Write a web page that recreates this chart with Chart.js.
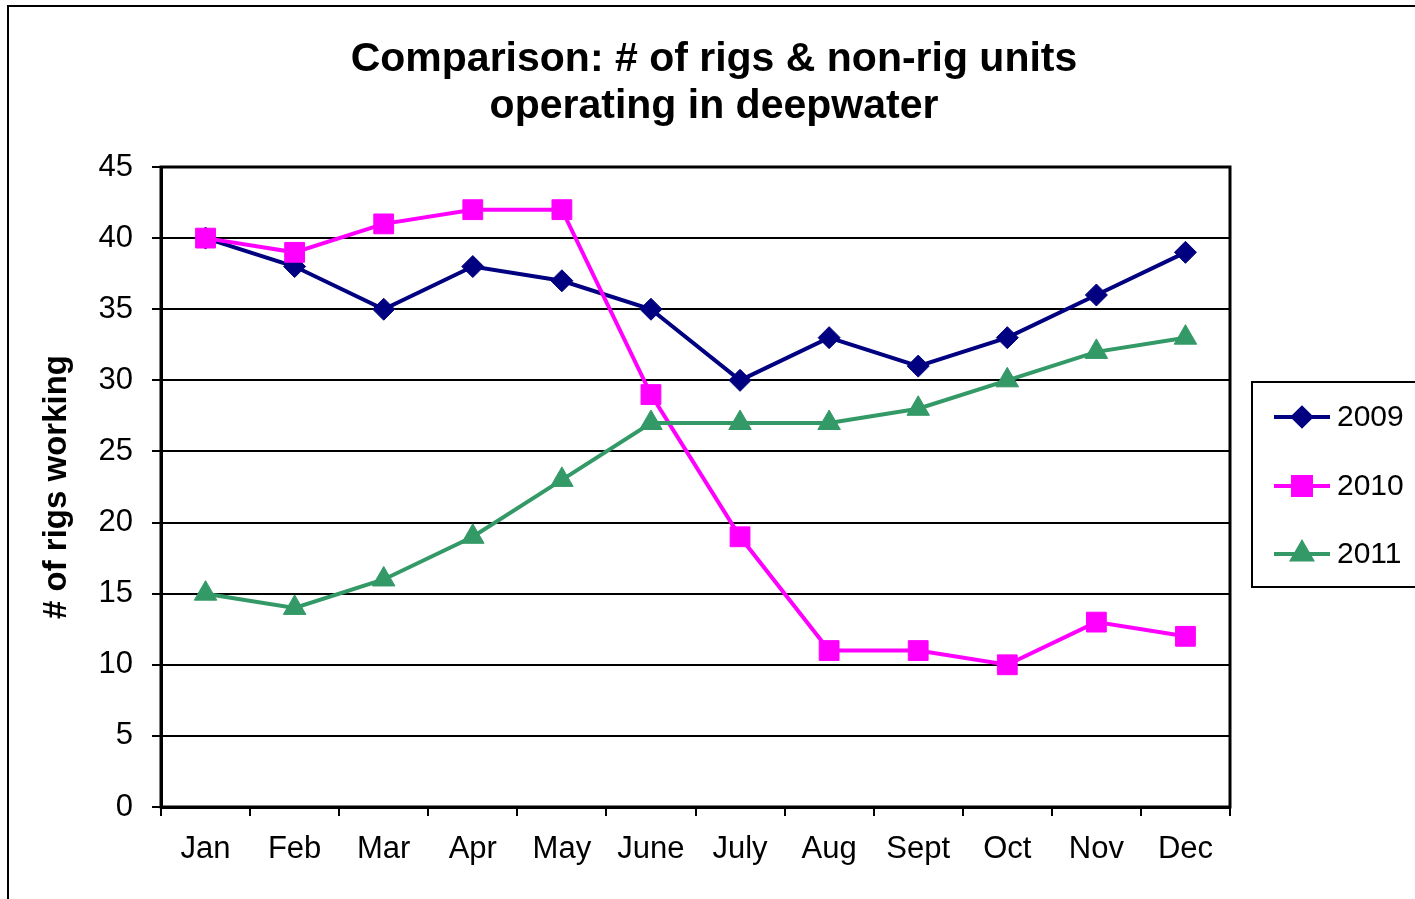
<!DOCTYPE html>
<html lang="en">
  <head>
    <meta charset="UTF-8" />
    <title>Comparison: # of rigs &amp; non-rig units operating in deepwater</title>
    <script src="https://cdn.jsdelivr.net/npm/chart.js"></script>
    <style>
      body {
        margin: 0;
        padding: 0;
        background: #fff;
        overflow: hidden;
      }
      #wrap {
        position: relative;
        width: 1415px;
        height: 899px;
      }
    </style>
  </head>
  <body>
    <div id="wrap">
      <canvas id="rigsChart" width="1415" height="899"></canvas>
    </div>

    <script>
      // chart data
      const months = ["Jan", "Feb", "Mar", "Apr", "May", "June", "July", "Aug", "Sept", "Oct", "Nov", "Dec"];
      const rigs2009 = [40, 38, 35, 38, 37, 35, 30, 33, 31, 33, 36, 39];
      const rigs2010 = [40, 39, 41, 42, 42, 29, 19, 11, 11, 10, 13, 12];
      const rigs2011 = [15, 14, 16, 19, 23, 27, 27, 27, 28, 30, 32, 33];
      const yTicks = [0, 5, 10, 15, 20, 25, 30, 35, 40, 45];

      Chart.defaults.font.family = "'Liberation Sans', Arial, sans-serif";
      Chart.defaults.color = "#000";

      const series = [
        { label: "2009", data: rigs2009, color: "#000080", style: "rectRot", radius: 11, legendRadius: 9 },
        { label: "2010", data: rigs2010, color: "#ff00ff", style: "rect", radius: 14, legendRadius: 12.7 },
        { label: "2011", data: rigs2011, color: "#339966", style: "triangle", radius: 13, legendRadius: 11 },
      ];

      // outer frame, plot border and legend box
      const framePlugin = {
        id: "frame",
        afterDraw(chart) {
          const ctx = chart.ctx;
          const area = chart.chartArea;
          ctx.save();
          ctx.strokeStyle = "#000";
          ctx.lineWidth = 2;
          ctx.beginPath();
          ctx.moveTo(8, 899);
          ctx.lineTo(8, 6);
          ctx.lineTo(1415, 6);
          ctx.stroke();

          ctx.lineWidth = 3;
          ctx.strokeRect(area.left, area.top, area.right - area.left, area.bottom - area.top);

          // legend
          ctx.lineWidth = 2;
          ctx.strokeRect(1252, 382, 200, 205);
          const rowY = [417, 486, 554];
          series.forEach((s, i) => {
            const y = rowY[i];
            ctx.strokeStyle = s.color;
            ctx.lineWidth = 4;
            ctx.beginPath();
            ctx.moveTo(1274, y);
            ctx.lineTo(1330, y);
            ctx.stroke();
            ctx.fillStyle = s.color;
            Chart.helpers.drawPoint(ctx, { pointStyle: s.style, radius: s.legendRadius, rotation: 0, borderWidth: 1 }, 1302, y);
            ctx.fillStyle = "#000";
            ctx.font = "30px 'Liberation Sans', Arial, sans-serif";
            ctx.textBaseline = "middle";
            ctx.textAlign = "left";
            ctx.fillText(s.label, 1337, y + 1);
          });
          ctx.restore();
        },
      };

      new Chart(document.getElementById("rigsChart"), {
        type: "line",
        data: {
          labels: months,
          datasets: series.map((s, i) => ({
            label: s.label,
            data: s.data,
            borderColor: s.color,
            backgroundColor: s.color,
            pointBackgroundColor: s.color,
            pointBorderColor: s.color,
            pointBorderWidth: 1,
            pointStyle: s.style,
            pointRadius: s.radius,
            borderWidth: 4,
            tension: 0,
            fill: false,
            order: 3 - i,
          })),
        },
        options: {
          responsive: false,
          animation: false,
          layout: { padding: { left: 13, top: 0, right: 0, bottom: 0 } },
          plugins: {
            legend: { display: false },
            tooltip: { enabled: false },
            title: {
              display: true,
              text: ["Comparison: # of rigs & non-rig units", "operating in deepwater"],
              font: { size: 41, weight: "bold", lineHeight: 1.15 },
              color: "#000",
              padding: { top: 36, bottom: 36.7 },
            },
          },
          scales: {
            x: {
              type: "category",
              offset: true,
              grid: {
                offset: true,
                drawOnChartArea: false,
                drawTicks: true,
                tickLength: 9,
                color: "#000",
                lineWidth: 2,
              },
              border: { display: true, color: "#000", width: 3 },
              ticks: {
                font: { size: 31 },
                color: "#000",
                padding: 15,
                maxRotation: 0,
                autoSkip: false,
              },
              afterFit(scale) {
                scale.height = 92;
              },
            },
            y: {
              position: "left",
              min: 0,
              max: 45,
              afterBuildTicks(scale) {
                scale.ticks = yTicks.map((v) => ({ value: v }));
              },
              grid: {
                color: "#000",
                lineWidth: 2,
                drawTicks: true,
                tickLength: 9,
              },
              border: { display: true, color: "#000", width: 3 },
              ticks: {
                font: { size: 31 },
                color: "#000",
                padding: 19,
              },
              title: {
                display: true,
                text: "# of rigs working",
                font: { size: 33, weight: "bold" },
                color: "#000",
                padding: { top: 24, bottom: 0 },
              },
              afterFit(scale) {
                scale.width = 148;
              },
            },
            y2: {
              position: "right",
              display: true,
              min: 0,
              max: 45,
              grid: { display: false, drawTicks: false },
              border: { display: false },
              ticks: { display: false },
              afterFit(scale) {
                scale.width = 185;
              },
            },
          },
        },
        plugins: [framePlugin],
      });
    </script>
  </body>
</html>
